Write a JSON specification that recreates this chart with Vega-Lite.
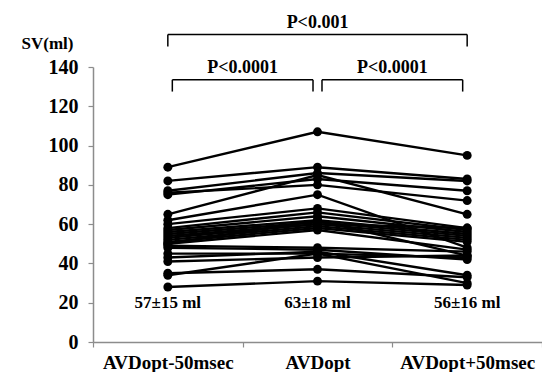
{
  "$schema": "https://vega.github.io/schema/vega-lite/v6.json",
  "width": 449,
  "height": 275,
  "autosize": {"type": "none"},
  "padding": {"left": 93, "top": 67, "right": 0, "bottom": 30},
  "background": "white",
  "config": {
    "view": {"stroke": null},
    "font": "Liberation Serif",
    "axis": {"grid": false, "domainColor": "#8c8c8c", "tickColor": "#8c8c8c", "domainWidth": 1.5, "tickWidth": 1.2, "labelColor": "black", "labelFont": "Liberation Serif", "labelFontWeight": "bold", "titleFont": "Liberation Serif", "titleFontWeight": "bold", "titleColor": "black", "labelOverlap": false, "labelBound": false},
    "axisY": {"labelFontSize": 20, "labelPadding": 10, "tickSize": 5, "titleAngle": 0, "titleFontSize": 17, "titleAlign": "center", "titleBaseline": "bottom", "titleX": -46, "titleY": -15},
    "axisX": {"labelAngle": 0, "labelFontSize": 19, "labelPadding": 6, "tickBand": "extent", "tickSize": 5}
  },
  "datasets": {
    "sv": [
      {"id": 1, "cond": "AVDopt-50msec", "sv": 89}, {"id": 1, "cond": "AVDopt", "sv": 107}, {"id": 1, "cond": "AVDopt+50msec", "sv": 95},
      {"id": 2, "cond": "AVDopt-50msec", "sv": 82}, {"id": 2, "cond": "AVDopt", "sv": 89}, {"id": 2, "cond": "AVDopt+50msec", "sv": 83},
      {"id": 3, "cond": "AVDopt-50msec", "sv": 77}, {"id": 3, "cond": "AVDopt", "sv": 86}, {"id": 3, "cond": "AVDopt+50msec", "sv": 82},
      {"id": 4, "cond": "AVDopt-50msec", "sv": 75}, {"id": 4, "cond": "AVDopt", "sv": 83}, {"id": 4, "cond": "AVDopt+50msec", "sv": 77},
      {"id": 5, "cond": "AVDopt-50msec", "sv": 76}, {"id": 5, "cond": "AVDopt", "sv": 80}, {"id": 5, "cond": "AVDopt+50msec", "sv": 72},
      {"id": 6, "cond": "AVDopt-50msec", "sv": 65}, {"id": 6, "cond": "AVDopt", "sv": 85}, {"id": 6, "cond": "AVDopt+50msec", "sv": 65},
      {"id": 7, "cond": "AVDopt-50msec", "sv": 62}, {"id": 7, "cond": "AVDopt", "sv": 75}, {"id": 7, "cond": "AVDopt+50msec", "sv": 48},
      {"id": 8, "cond": "AVDopt-50msec", "sv": 60}, {"id": 8, "cond": "AVDopt", "sv": 68}, {"id": 8, "cond": "AVDopt+50msec", "sv": 58},
      {"id": 9, "cond": "AVDopt-50msec", "sv": 58}, {"id": 9, "cond": "AVDopt", "sv": 66}, {"id": 9, "cond": "AVDopt+50msec", "sv": 57},
      {"id": 10, "cond": "AVDopt-50msec", "sv": 57}, {"id": 10, "cond": "AVDopt", "sv": 64}, {"id": 10, "cond": "AVDopt+50msec", "sv": 56},
      {"id": 11, "cond": "AVDopt-50msec", "sv": 56}, {"id": 11, "cond": "AVDopt", "sv": 62}, {"id": 11, "cond": "AVDopt+50msec", "sv": 55},
      {"id": 12, "cond": "AVDopt-50msec", "sv": 55}, {"id": 12, "cond": "AVDopt", "sv": 61}, {"id": 12, "cond": "AVDopt+50msec", "sv": 54},
      {"id": 13, "cond": "AVDopt-50msec", "sv": 54}, {"id": 13, "cond": "AVDopt", "sv": 60}, {"id": 13, "cond": "AVDopt+50msec", "sv": 53},
      {"id": 14, "cond": "AVDopt-50msec", "sv": 53}, {"id": 14, "cond": "AVDopt", "sv": 60}, {"id": 14, "cond": "AVDopt+50msec", "sv": 58},
      {"id": 15, "cond": "AVDopt-50msec", "sv": 52}, {"id": 15, "cond": "AVDopt", "sv": 59}, {"id": 15, "cond": "AVDopt+50msec", "sv": 52},
      {"id": 16, "cond": "AVDopt-50msec", "sv": 51}, {"id": 16, "cond": "AVDopt", "sv": 58}, {"id": 16, "cond": "AVDopt+50msec", "sv": 51},
      {"id": 17, "cond": "AVDopt-50msec", "sv": 50}, {"id": 17, "cond": "AVDopt", "sv": 57}, {"id": 17, "cond": "AVDopt+50msec", "sv": 47},
      {"id": 18, "cond": "AVDopt-50msec", "sv": 50}, {"id": 18, "cond": "AVDopt", "sv": 62}, {"id": 18, "cond": "AVDopt+50msec", "sv": 44},
      {"id": 19, "cond": "AVDopt-50msec", "sv": 49}, {"id": 19, "cond": "AVDopt", "sv": 48}, {"id": 19, "cond": "AVDopt+50msec", "sv": 46},
      {"id": 20, "cond": "AVDopt-50msec", "sv": 48}, {"id": 20, "cond": "AVDopt", "sv": 47}, {"id": 20, "cond": "AVDopt+50msec", "sv": 42},
      {"id": 21, "cond": "AVDopt-50msec", "sv": 45}, {"id": 21, "cond": "AVDopt", "sv": 45}, {"id": 21, "cond": "AVDopt+50msec", "sv": 43},
      {"id": 22, "cond": "AVDopt-50msec", "sv": 43}, {"id": 22, "cond": "AVDopt", "sv": 46}, {"id": 22, "cond": "AVDopt+50msec", "sv": 34},
      {"id": 23, "cond": "AVDopt-50msec", "sv": 41}, {"id": 23, "cond": "AVDopt", "sv": 43}, {"id": 23, "cond": "AVDopt+50msec", "sv": 44},
      {"id": 24, "cond": "AVDopt-50msec", "sv": 35}, {"id": 24, "cond": "AVDopt", "sv": 37}, {"id": 24, "cond": "AVDopt+50msec", "sv": 33},
      {"id": 25, "cond": "AVDopt-50msec", "sv": 34}, {"id": 25, "cond": "AVDopt", "sv": 45}, {"id": 25, "cond": "AVDopt+50msec", "sv": 30},
      {"id": 26, "cond": "AVDopt-50msec", "sv": 28}, {"id": 26, "cond": "AVDopt", "sv": 31}, {"id": 26, "cond": "AVDopt+50msec", "sv": 29}
    ],
    "means": [
      {"cond": "AVDopt-50msec", "label": "57±15 ml"},
      {"cond": "AVDopt", "label": "63±18 ml"},
      {"cond": "AVDopt+50msec", "label": "56±16 ml"}
    ],
    "brackets": [
      {"from": "AVDopt-50msec", "to": "AVDopt+50msec", "mid": "AVDopt", "label": "P<0.001"}
    ],
    "pairs": [
      {"from": "AVDopt-50msec", "to": "AVDopt", "label": "P<0.0001"},
      {"from": "AVDopt", "to": "AVDopt+50msec", "label": "P<0.0001"}
    ]
  },
  "layer": [
    {
      "data": {"name": "sv"},
      "mark": {"type": "line", "color": "black", "strokeWidth": 2.4, "point": {"filled": true, "size": 80, "color": "black"}},
      "encoding": {
        "x": {"field": "cond", "type": "nominal", "sort": ["AVDopt-50msec", "AVDopt", "AVDopt+50msec"],
          "scale": {"type": "band", "paddingInner": 0, "paddingOuter": 0, "domain": ["AVDopt-50msec", "AVDopt", "AVDopt+50msec"]},
          "axis": {"title": null}},
        "y": {"field": "sv", "type": "quantitative",
          "scale": {"domain": [0, 140], "nice": false},
          "axis": {"values": [0, 20, 40, 60, 80, 100, 120, 140], "title": "SV(ml)"}},
        "detail": {"field": "id", "type": "nominal"}
      }
    },
    {
      "data": {"name": "means"},
      "mark": {"type": "text", "fontSize": 17, "fontWeight": "bold", "font": "Liberation Serif", "color": "black", "baseline": "middle", "align": "center"},
      "encoding": {
        "x": {"field": "cond", "type": "nominal", "axis": {"title": null}},
        "y": {"datum": 20, "type": "quantitative", "axis": {"values": [0, 20, 40, 60, 80, 100, 120, 140], "title": "SV(ml)"}},
        "text": {"field": "label", "type": "nominal"}
      }
    },
    {
      "data": {"name": "brackets"},
      "mark": {"type": "rule", "color": "black", "strokeWidth": 1.5},
      "encoding": {"x": {"field": "from", "type": "nominal", "axis": {"title": null}}, "x2": {"field": "to"}, "y": {"datum": 156.5, "type": "quantitative", "axis": {"values": [0, 20, 40, 60, 80, 100, 120, 140], "title": "SV(ml)"}}}
    },
    {
      "data": {"name": "brackets"},
      "mark": {"type": "rule", "color": "black", "strokeWidth": 1.5},
      "encoding": {"x": {"field": "from", "type": "nominal", "axis": {"title": null}}, "y": {"datum": 156.5, "type": "quantitative", "axis": {"values": [0, 20, 40, 60, 80, 100, 120, 140], "title": "SV(ml)"}}, "y2": {"datum": 150.5}}
    },
    {
      "data": {"name": "brackets"},
      "mark": {"type": "rule", "color": "black", "strokeWidth": 1.5},
      "encoding": {"x": {"field": "to", "type": "nominal", "axis": {"title": null}}, "y": {"datum": 156.5, "type": "quantitative", "axis": {"values": [0, 20, 40, 60, 80, 100, 120, 140], "title": "SV(ml)"}}, "y2": {"datum": 150.5}}
    },
    {
      "data": {"name": "brackets"},
      "mark": {"type": "text", "fontSize": 18, "fontWeight": "bold", "font": "Liberation Serif", "color": "black", "baseline": "middle", "align": "center"},
      "encoding": {"x": {"field": "mid", "type": "nominal", "axis": {"title": null}}, "y": {"datum": 162.5, "type": "quantitative", "axis": {"values": [0, 20, 40, 60, 80, 100, 120, 140], "title": "SV(ml)"}}, "text": {"field": "label", "type": "nominal"}}
    },
    {
      "data": {"name": "pairs"},
      "mark": {"type": "rule", "color": "black", "strokeWidth": 1.5},
      "encoding": {"x": {"field": "from", "type": "nominal", "bandPosition": 0.53, "axis": {"title": null}}, "x2": {"field": "to", "bandPosition": 0.47}, "y": {"datum": 133.5, "type": "quantitative", "axis": {"values": [0, 20, 40, 60, 80, 100, 120, 140], "title": "SV(ml)"}}}
    },
    {
      "data": {"name": "pairs"},
      "mark": {"type": "rule", "color": "black", "strokeWidth": 1.5},
      "encoding": {"x": {"field": "from", "type": "nominal", "bandPosition": 0.53, "axis": {"title": null}}, "y": {"datum": 133.5, "type": "quantitative", "axis": {"values": [0, 20, 40, 60, 80, 100, 120, 140], "title": "SV(ml)"}}, "y2": {"datum": 127.5}}
    },
    {
      "data": {"name": "pairs"},
      "mark": {"type": "rule", "color": "black", "strokeWidth": 1.5},
      "encoding": {"x": {"field": "to", "type": "nominal", "bandPosition": 0.47, "axis": {"title": null}}, "y": {"datum": 133.5, "type": "quantitative", "axis": {"values": [0, 20, 40, 60, 80, 100, 120, 140], "title": "SV(ml)"}}, "y2": {"datum": 127.5}}
    },
    {
      "data": {"name": "pairs"},
      "mark": {"type": "text", "fontSize": 18, "fontWeight": "bold", "font": "Liberation Serif", "color": "black", "baseline": "middle", "align": "center"},
      "encoding": {"x": {"field": "from", "type": "nominal", "bandPosition": 1, "axis": {"title": null}}, "y": {"datum": 139.5, "type": "quantitative", "axis": {"values": [0, 20, 40, 60, 80, 100, 120, 140], "title": "SV(ml)"}}, "text": {"field": "label", "type": "nominal"}}
    }
  ]
}
